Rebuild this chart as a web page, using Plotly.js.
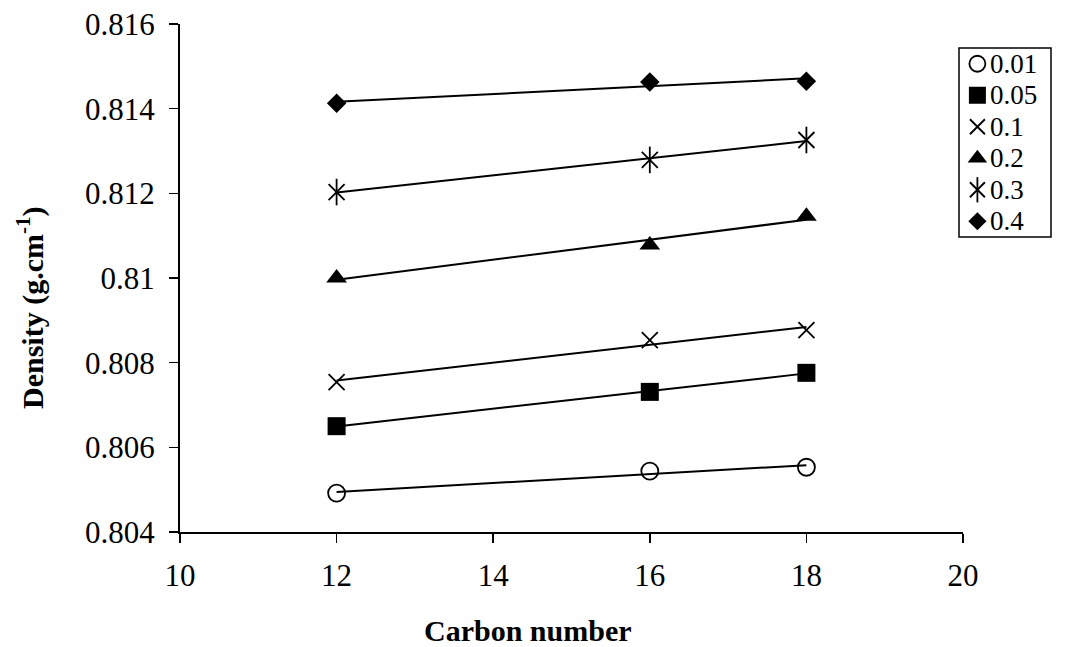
<!DOCTYPE html>
<html>
<head>
<meta charset="utf-8">
<script src="https://cdn.plot.ly/plotly-3.0.1.min.js"></script>
<style>
  html, body { margin: 0; padding: 0; background: #ffffff; }
  #chart { width: 1071px; height: 647px; }
</style>
</head>
<body>
<div id="chart"></div>
<script>
// Carbon number of the fatty acid chain
const carbonNumbers = [12, 16, 18];

// Density (g/cm^-1) for each mole fraction
const seriesNames = ['0.01', '0.05', '0.1', '0.2', '0.3', '0.4'];
const density001 = [0.80492, 0.80544, 0.80553];
const density005 = [0.80650, 0.80731, 0.80776];
const density01  = [0.80754, 0.80853, 0.80877];
const density02  = [0.81000, 0.81078, 0.81146];
const density03  = [0.81203, 0.81279, 0.81326];
const density04  = [0.81413, 0.81463, 0.81465];

const xTickVals = [10, 12, 14, 16, 18, 20];
const yTickVals = [0.804, 0.806, 0.808, 0.81, 0.812, 0.814, 0.816];
const yTickText = ['0.804', '0.806', '0.808', '0.81', '0.812', '0.814', '0.816'];

const allSeries = [density001, density005, density01, density02, density03, density04];

const INK = '#000000';
const SERIF = 'Liberation Serif, Times New Roman, serif';

// marker styling per series; the star is an × with a vertical bar on top
const styles = [
  [{symbol: 'circle-open', size: 17, color: INK, line: {width: 1.8, color: INK}}],
  [{symbol: 'square', size: 18, color: INK}],
  [{symbol: 'x-thin-open', size: 16, color: INK, line: {width: 1.8, color: INK}}],
  [{symbol: 'triangle-up', size: 18, color: INK}],
  [{symbol: 'x-thin-open', size: 16, color: INK, line: {width: 1.8, color: INK}},
   {symbol: 'line-ns-open', size: 19, color: INK, line: {width: 1.8, color: INK}}],
  [{symbol: 'diamond', size: 15, color: INK}]
];

// least-squares line through a series
function linearFit(xs, ys) {
  const n = xs.length;
  const mx = xs.reduce((a, b) => a + b, 0) / n;
  const my = ys.reduce((a, b) => a + b, 0) / n;
  let sxy = 0, sxx = 0;
  for (let i = 0; i < n; i++) {
    sxy += (xs[i] - mx) * (ys[i] - my);
    sxx += (xs[i] - mx) * (xs[i] - mx);
  }
  const slope = sxy / sxx;
  return x => my + slope * (x - mx);
}

const traces = [];
const xEnds = [Math.min(...carbonNumbers), Math.max(...carbonNumbers)];

allSeries.forEach((ys, i) => {
  const fit = linearFit(carbonNumbers, ys);
  traces.push({
    x: xEnds, y: xEnds.map(fit),
    mode: 'lines', line: {color: INK, width: 2},
    hoverinfo: 'skip', showlegend: false
  });
  styles[i].forEach(m => {
    traces.push({
      x: carbonNumbers, y: ys, name: seriesNames[i],
      mode: 'markers', marker: m, showlegend: false
    });
  });
});

// legend: symbols on an overlay axis, labels as annotations
const legendRows = seriesNames.length;
styles.forEach((group, i) => {
  group.forEach(m => {
    traces.push({
      x: [0.2], y: [legendRows - 0.5 - i],
      xaxis: 'x2', yaxis: 'y2', mode: 'markers',
      marker: Object.assign({}, m, {size: m.size - 1}),
      hoverinfo: 'skip', showlegend: false
    });
  });
});

// geometry in pixels
const W = 1071, H = 647;
const mL = 180, mR = 10, mT = 24, mB = 115;
const plotW = W - mL - mR, plotH = H - mT - mB;
const px = v => (v - mL) / plotW;
const py = v => (H - mB - v) / plotH;
const box = {x0: 959, x1: 1051, y0: 48, y1: 237};

const annotations = seriesNames.map((name, i) => ({
  xref: 'x2', yref: 'y2', x: 0.31, y: legendRows - 0.5 - i,
  text: name, showarrow: false, xanchor: 'left', yanchor: 'middle',
  font: {family: SERIF, size: 27, color: INK}
}));

// axis titles
annotations.push({
  xref: 'paper', yref: 'paper', x: px(528), y: py(630),
  text: '<b>Carbon number</b>', showarrow: false,
  xanchor: 'center', yanchor: 'middle',
  font: {family: SERIF, size: 30, color: INK}
});
annotations.push({
  xref: 'paper', yref: 'paper', x: px(30), y: py(308),
  text: '<b>Density (g.cm<sup>-1</sup>)</b>', showarrow: false, textangle: -90,
  xanchor: 'center', yanchor: 'middle',
  font: {family: SERIF, size: 30, color: INK}
});

const layout = {
  width: W, height: H,
  margin: {l: mL, r: mR, t: mT, b: mB},
  paper_bgcolor: '#ffffff', plot_bgcolor: '#ffffff',
  font: {family: SERIF, color: INK},
  showlegend: false,
  xaxis: {
    domain: [0, px(963)],
    range: [10, 20], tickvals: xTickVals,
    showgrid: false, zeroline: false,
    showline: true, linecolor: INK, linewidth: 2,
    ticks: 'outside', ticklen: 9, tickwidth: 1.5, tickcolor: INK,
    tickfont: {size: 31}, ticklabelstandoff: 6
  },
  yaxis: {
    domain: [0, 1],
    range: [0.804, 0.816], tickvals: yTickVals, ticktext: yTickText,
    showgrid: false, zeroline: false,
    showline: true, linecolor: INK, linewidth: 2,
    ticks: 'outside', ticklen: 9, tickwidth: 1.5, tickcolor: INK,
    tickfont: {size: 31}, ticklabelstandoff: 8
  },
  xaxis2: {
    domain: [px(box.x0), px(box.x1)], range: [0, 1],
    visible: false, anchor: 'y2', fixedrange: true
  },
  yaxis2: {
    domain: [py(box.y1), py(box.y0)], range: [0, legendRows],
    visible: false, anchor: 'x2', fixedrange: true
  },
  shapes: [{
    type: 'rect', xref: 'paper', yref: 'paper',
    x0: px(box.x0), x1: px(box.x1), y0: py(box.y1), y1: py(box.y0),
    line: {color: INK, width: 1.5}, fillcolor: 'rgba(0,0,0,0)'
  }],
  annotations: annotations
};

Plotly.newPlot('chart', traces, layout, {displayModeBar: false, staticPlot: true});
</script>
</body>
</html>
